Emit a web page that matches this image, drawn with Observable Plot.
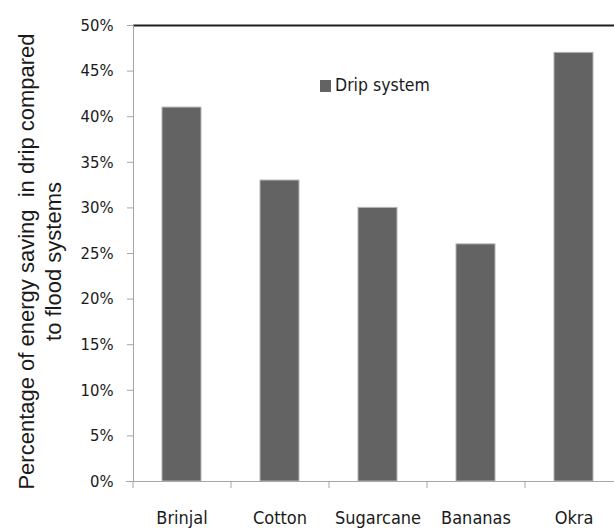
<!DOCTYPE html>
<html>
<head>
<meta charset="utf-8">
<script src="https://cdn.jsdelivr.net/npm/d3@7"></script>
<script src="https://cdn.jsdelivr.net/npm/@observablehq/plot@0.6"></script>
<style>
  html, body { margin: 0; padding: 0; background: #fff; }
  #chart { position: relative; width: 614px; height: 528px; overflow: hidden; }
  .legend { position: absolute; left: 320px; top: 75px; display: flex; align-items: center;
            font-family: "DejaVu Sans Condensed", "DejaVu Sans", sans-serif; font-size: 17.5px; color: #1a1a1a; }
  .legend .swatch { width: 11px; height: 12px; background: #636363; margin-right: 4px; margin-top: 2px; }
</style>
</head>
<body>
<div id="chart"></div>
<script>
// Energy saving of drip irrigation relative to flood irrigation, by crop
const crops = ["Brinjal", "Cotton", "Sugarcane", "Bananas", "Okra"];
const savings = [0.41, 0.33, 0.30, 0.26, 0.47];
const yTicks = [0, 0.05, 0.10, 0.15, 0.20, 0.25, 0.30, 0.35, 0.40, 0.45, 0.50];
const seriesName = "Drip system";
const yTitle = "Percentage of energy saving  in drip compared\nto flood systems";

const data = crops.map((crop, i) => ({crop, value: savings[i]}));

const axisGray = "#a6a6a6";
const tickFont = "DejaVu Sans Condensed, DejaVu Sans, sans-serif";

const plot = Plot.plot({
  width: 614,
  height: 528,
  marginLeft: 133,
  marginRight: 0,
  marginTop: 25,
  marginBottom: 47,
  style: {background: "#fff", overflow: "hidden"},
  x: {domain: crops, range: [133, 623], paddingInner: 0.6, paddingOuter: 0.3},
  y: {domain: [0, 0.5], range: [481, 25]},
  marks: [
    // bars
    Plot.barY(data, {x: "crop", y: "value", fill: "#636363", stroke: "#b4b4b4", strokeWidth: 1}),
    // top border of the plot area
    Plot.ruleY([0.5], {stroke: "#1e1e1e", strokeWidth: 2}),
    // left axis line
    Plot.frame({anchor: "left", stroke: axisGray}),
    // baseline
    Plot.ruleY([0], {stroke: axisGray, insetLeft: -7}),
    // category separator ticks below the baseline
    Plot.ruleX(crops, {x: d => d, dx: -49, y1: 0, y2: 0, insetBottom: -7, stroke: axisGray}),
    // y axis ticks and labels
    Plot.axisY({
      ticks: yTicks,
      tickFormat: d3.format(".0%"),
      tickSize: 6,
      tickPadding: 14,
      stroke: axisGray,
      fill: "#1a1a1a",
      fontSize: 16.5,
      fontFamily: tickFont,
      label: null
    }),
    // category labels
    Plot.axisX({
      tickSize: 0,
      tickPadding: 30,
      fill: "#1a1a1a",
      fontSize: 18,
      fontFamily: tickFont,
      label: null
    }),
    // y axis title
    Plot.text([yTitle], {
      frameAnchor: "left",
      textAnchor: "middle",
      lineAnchor: "middle",
      rotate: -90,
      dx: -95,
      dy: 8,
      lineHeight: 1.22,
      fontSize: 22,
      fontFamily: "Liberation Sans, Arial, sans-serif",
      fill: "#1a1a1a"
    })
  ]
});

const chart = document.getElementById("chart");
chart.appendChild(plot);

const legend = document.createElement("div");
legend.className = "legend";
legend.innerHTML = `<span class="swatch"></span><span></span>`;
legend.lastChild.textContent = seriesName;
chart.appendChild(legend);
</script>
</body>
</html>
